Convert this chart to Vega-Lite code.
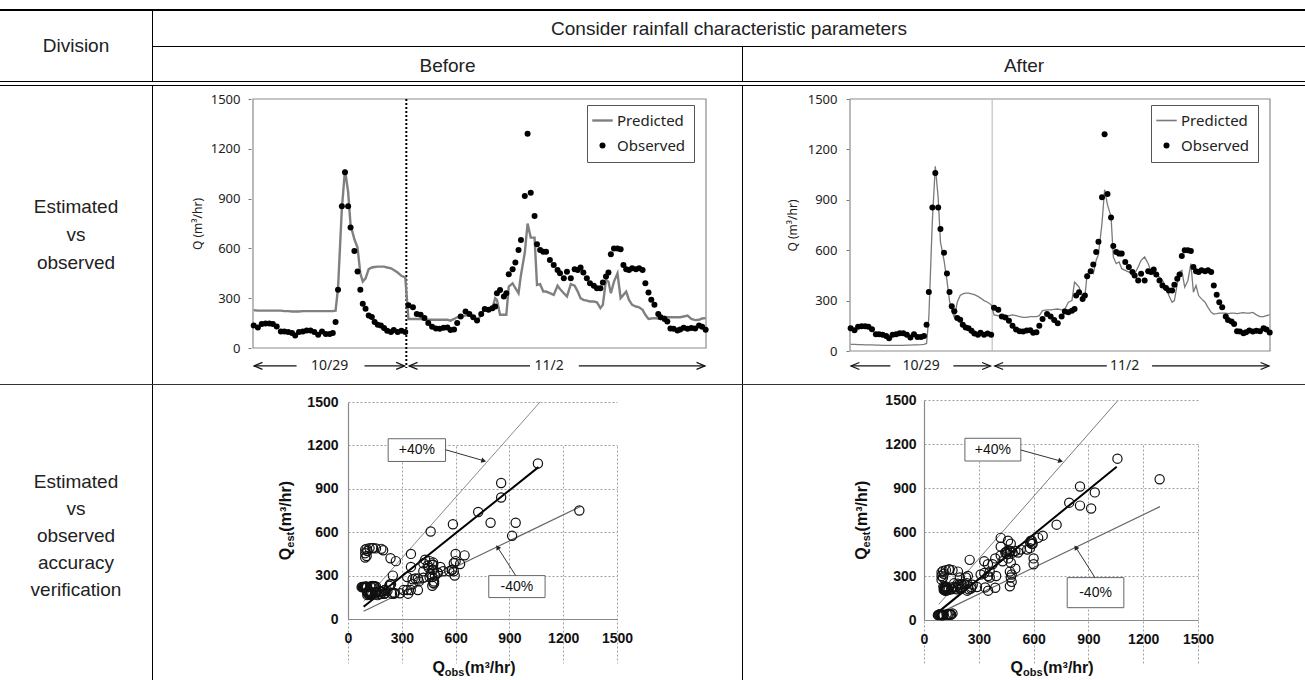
{
 "$schema": "https://vega.github.io/schema/vega-lite/v6.json",
 "padding": {"top": 9, "left": 0, "right": 0, "bottom": 0},
 "background": "white",
 "config": {"view": {"stroke": null}},
 "spacing": 0,
 "resolve": {"scale": {"color": "independent"}, "legend": {"color": "independent"}},
 "datasets": {
  "ts": [
   {"t":0.2,"obs":136,"pb":228,"pa":40},{"t":1.4,"obs":124,"pb":225,"pa":40},{"t":2.5,"obs":144,"pb":225,"pa":38},{"t":3.6,"obs":148,"pb":225,"pa":38},
   {"t":4.7,"obs":148,"pb":225,"pa":37},{"t":5.7,"obs":144,"pb":225,"pa":37},{"t":6.8,"obs":130,"pb":225,"pa":36},{"t":8.0,"obs":100,"pb":225,"pa":35},
   {"t":9.0,"obs":100,"pb":222,"pa":35},{"t":10.1,"obs":96,"pb":222,"pa":34},{"t":11.2,"obs":90,"pb":220,"pa":34},{"t":12.1,"obs":76,"pb":220,"pa":33},
   {"t":13.2,"obs":96,"pb":220,"pa":33},{"t":14.3,"obs":100,"pb":222,"pa":33},{"t":15.4,"obs":106,"pb":222,"pa":34},{"t":16.5,"obs":106,"pb":222,"pa":34},
   {"t":17.6,"obs":96,"pb":222,"pa":35},{"t":18.7,"obs":80,"pb":222,"pa":35},{"t":19.8,"obs":100,"pb":222,"pa":36},{"t":20.9,"obs":84,"pb":222,"pa":37},
   {"t":22.0,"obs":84,"pb":222,"pa":38},{"t":22.9,"obs":90,"pb":222,"pa":40},{"t":23.7,"obs":156,"pb":225,"pa":45},{"t":24.4,"obs":351,"pb":360,"pa":200},
   {"t":25.5,"obs":854,"pb":840,"pa":780},{"t":26.4,"obs":1059,"pb":1075,"pa":1100},{"t":27.3,"obs":854,"pb":940,"pa":910},{"t":28.0,"obs":726,"pb":740,"pa":650},
   {"t":29.1,"obs":585,"pb":655,"pa":540},{"t":30.0,"obs":461,"pb":605,"pa":420},{"t":30.8,"obs":351,"pb":450,"pa":300},{"t":31.5,"obs":267,"pb":400,"pa":240},
   {"t":32.3,"obs":237,"pb":420,"pa":200},{"t":33.2,"obs":196,"pb":475,"pa":290},{"t":34.1,"obs":186,"pb":485,"pa":330},{"t":34.9,"obs":156,"pb":488,"pa":340},
   {"t":35.8,"obs":140,"pb":490,"pa":345},{"t":36.7,"obs":136,"pb":490,"pa":345},{"t":37.6,"obs":120,"pb":490,"pa":340},{"t":38.5,"obs":104,"pb":485,"pa":335},
   {"t":39.6,"obs":96,"pb":480,"pa":325},{"t":40.4,"obs":108,"pb":470,"pa":315},{"t":41.5,"obs":96,"pb":455,"pa":300},{"t":42.6,"obs":104,"pb":435,"pa":290},
   {"t":43.7,"obs":96,"pb":425,"pa":275},
   {"t":44.6,"obs":257,"pb":175,"pa":215},{"t":45.9,"obs":245,"pb":175,"pa":210},{"t":47.0,"obs":205,"pb":175,"pa":215},{"t":48.1,"obs":200,"pb":175,"pa":212},
   {"t":49.2,"obs":180,"pb":172,"pa":210},{"t":50.3,"obs":150,"pb":170,"pa":215},{"t":51.4,"obs":128,"pb":170,"pa":210},{"t":52.5,"obs":118,"pb":170,"pa":205},
   {"t":53.6,"obs":116,"pb":170,"pa":200},{"t":54.7,"obs":122,"pb":170,"pa":200},{"t":55.8,"obs":124,"pb":170,"pa":205},{"t":56.7,"obs":108,"pb":165,"pa":205},
   {"t":57.7,"obs":112,"pb":175,"pa":205},{"t":58.6,"obs":150,"pb":185,"pa":210},{"t":59.6,"obs":190,"pb":190,"pa":240},{"t":61.0,"obs":220,"pb":195,"pa":245},
   {"t":62.1,"obs":205,"pb":200,"pa":245},{"t":63.2,"obs":185,"pb":190,"pa":248},{"t":64.3,"obs":165,"pb":165,"pa":250},{"t":65.5,"obs":205,"pb":200,"pa":245},
   {"t":66.5,"obs":235,"pb":240,"pa":250},{"t":67.6,"obs":230,"pb":230,"pa":290},{"t":68.7,"obs":240,"pb":240,"pa":300},{"t":69.5,"obs":250,"pb":300,"pa":410},
   {"t":70.0,"obs":330,"pb":290,"pa":400},{"t":70.9,"obs":350,"pb":200,"pa":380},{"t":72.0,"obs":310,"pb":200,"pa":310},{"t":72.7,"obs":330,"pb":200,"pa":320},
   {"t":73.4,"obs":445,"pb":370,"pa":460},{"t":74.5,"obs":475,"pb":390,"pa":470},{"t":75.3,"obs":515,"pb":360,"pa":460},{"t":76.2,"obs":590,"pb":330,"pa":540},
   {"t":76.9,"obs":650,"pb":440,"pa":575},{"t":78.0,"obs":915,"pb":575,"pa":760},{"t":78.8,"obs":1290,"pb":750,"pa":960},{"t":79.7,"obs":935,"pb":665,"pa":870},
   {"t":80.8,"obs":795,"pb":665,"pa":800},{"t":81.5,"obs":625,"pb":380,"pa":560},{"t":82.4,"obs":590,"pb":385,"pa":520},{"t":83.3,"obs":580,"pb":340,"pa":530},
   {"t":84.1,"obs":580,"pb":340,"pa":490},{"t":85.2,"obs":530,"pb":330,"pa":480},{"t":86.3,"obs":500,"pb":320,"pa":470},{"t":87.4,"obs":470,"pb":375,"pa":470},
   {"t":88.1,"obs":450,"pb":355,"pa":460},{"t":89.2,"obs":420,"pb":330,"pa":500},{"t":90.1,"obs":460,"pb":310,"pa":540},{"t":91.2,"obs":420,"pb":385,"pa":560},
   {"t":92.3,"obs":475,"pb":375,"pa":520},{"t":93.2,"obs":470,"pb":340,"pa":470},{"t":94.0,"obs":485,"pb":300,"pa":460},{"t":94.8,"obs":455,"pb":290,"pa":450},
   {"t":95.8,"obs":420,"pb":285,"pa":440},{"t":96.7,"obs":390,"pb":280,"pa":420},{"t":97.8,"obs":375,"pb":280,"pa":380},{"t":98.7,"obs":360,"pb":275,"pa":330},
   {"t":99.7,"obs":360,"pb":240,"pa":290},{"t":100.4,"obs":395,"pb":260,"pa":300},{"t":101.3,"obs":430,"pb":410,"pa":400},{"t":102.0,"obs":455,"pb":400,"pa":470},
   {"t":102.7,"obs":565,"pb":330,"pa":480},{"t":103.6,"obs":600,"pb":400,"pa":380},{"t":104.6,"obs":600,"pb":450,"pa":420},{"t":105.5,"obs":595,"pb":300,"pa":520},
   {"t":106.3,"obs":500,"pb":320,"pa":350},{"t":107.1,"obs":475,"pb":340,"pa":390},{"t":107.9,"obs":470,"pb":290,"pa":330},{"t":108.8,"obs":480,"pb":260,"pa":310},
   {"t":109.9,"obs":475,"pb":250,"pa":290},{"t":110.8,"obs":480,"pb":245,"pa":260},{"t":111.8,"obs":470,"pb":230,"pa":230},{"t":112.6,"obs":390,"pb":200,"pa":220},
   {"t":113.5,"obs":335,"pb":175,"pa":222},{"t":114.3,"obs":290,"pb":178,"pa":225},{"t":115.2,"obs":260,"pb":180,"pa":225},{"t":116.3,"obs":205,"pb":178,"pa":225},
   {"t":117.0,"obs":185,"pb":175,"pa":222},{"t":118.1,"obs":175,"pb":190,"pa":225},{"t":118.9,"obs":160,"pb":185,"pa":225},{"t":119.8,"obs":118,"pb":185,"pa":222},
   {"t":120.7,"obs":116,"pb":185,"pa":225},{"t":121.8,"obs":106,"pb":185,"pa":228},{"t":122.6,"obs":112,"pb":185,"pa":225},{"t":123.6,"obs":122,"pb":190,"pa":225},
   {"t":124.7,"obs":116,"pb":195,"pa":230},{"t":125.8,"obs":120,"pb":175,"pa":215},{"t":126.9,"obs":118,"pb":168,"pa":205},{"t":128.0,"obs":135,"pb":170,"pa":205},
   {"t":128.9,"obs":128,"pb":178,"pa":210},{"t":129.9,"obs":110,"pb":180,"pa":215}
  ],
  "arrows": [
   {"lab":"10/29","a":0.3,"b":12.5,"c":32,"d":43.5,"m":22},
   {"lab":"11/2","a":44.8,"b":79.5,"c":93.5,"d":129.7,"m":85}
  ],
  "linesB": [
   {"k":"p40","x0":87,"y0":122,"x1":1071,"y1":1500},
   {"k":"one","x0":87,"y0":85,"x1":1062,"y1":1050},
   {"k":"m40","x0":87,"y0":53,"x1":1297,"y1":778}
  ],
  "linesA": [
   {"k":"p40","x0":81,"y0":107,"x1":1059,"y1":1493},
   {"k":"one","x0":81,"y0":57,"x1":1055,"y1":1045},
   {"k":"m40","x0":81,"y0":45,"x1":1292,"y1":773}
  ],
  "annB": [
   {"lab":"+40%","bx0":224,"bx1":544,"by0":1089,"by1":1246,"tx":384,"ty":1167,"ax0":544,"ay0":1170,"ax1":757,"ay1":1094},
   {"lab":"-40%","bx0":785,"bx1":1099,"by0":148,"by1":300,"tx":942,"ty":224,"ax0":935,"ay0":300,"ax1":834,"ay1":496}
  ],
  "annA": [
   {"lab":"+40%","bx0":224,"bx1":530,"by0":1084,"by1":1239,"tx":377,"ty":1161,"ax0":530,"ay0":1159,"ax1":748,"ay1":1084},
   {"lab":"-40%","bx0":784,"bx1":1094,"by0":84,"by1":289,"tx":939,"ty":186,"ax0":936,"ay0":289,"ax1":831,"ay1":495}
  ]
 },
 "vconcat": [
  {"width":1305,"height":2,"data":{"values":[]},"mark":"point","encoding":{},"view":{"fill":"#000","stroke":null}},
  {"spacing":0,"hconcat":[
    {"width":152,"height":70,"data":{"values":[{"t":"Division"}]},"mark":{"type":"text","font":"Liberation Sans","fontSize":19,"color":"#222"},"encoding":{"text":{"field":"t","type":"nominal"}}},
    {"width":1,"height":70,"data":{"values":[]},"mark":"point","encoding":{},"view":{"fill":"#000","stroke":null}},
    {"spacing":0,"vconcat":[
      {"width":1152,"height":35,"data":{"values":[{"t":"Consider rainfall characteristic parameters"}]},"mark":{"type":"text","font":"Liberation Sans","fontSize":19,"color":"#222"},"encoding":{"text":{"field":"t","type":"nominal"}}},
      {"width":1152,"height":1,"data":{"values":[]},"mark":"point","encoding":{},"view":{"fill":"#000","stroke":null}},
      {"spacing":0,"hconcat":[
        {"width":589,"height":34,"data":{"values":[{"t":"Before"}]},"mark":{"type":"text","font":"Liberation Sans","fontSize":19,"color":"#222","dy":2},"encoding":{"text":{"field":"t","type":"nominal"}}},
        {"width":1,"height":34,"data":{"values":[]},"mark":"point","encoding":{},"view":{"fill":"#000","stroke":null}},
        {"width":562,"height":34,"data":{"values":[{"t":"After"}]},"mark":{"type":"text","font":"Liberation Sans","fontSize":19,"color":"#222","dy":2},"encoding":{"text":{"field":"t","type":"nominal"}}}
      ]}
    ]}
  ]},
  {"width":1305,"height":1,"data":{"values":[]},"mark":"point","encoding":{},"view":{"fill":"#000","stroke":null}},
  {"width":1305,"height":3,"data":{"values":[]},"mark":"point","encoding":{},"view":{"fill":"#fff","stroke":null}},
  {"width":1305,"height":1,"data":{"values":[]},"mark":"point","encoding":{},"view":{"fill":"#000","stroke":null}},
  {"spacing":0,"resolve":{"scale":{"color":"independent"},"legend":{"color":"independent"}},"hconcat":[
    {"width":152,"height":298,"data":{"values":[{"t":"Estimated\nvs\nobserved"}]},"mark":{"type":"text","font":"Liberation Sans","fontSize":19,"color":"#222","lineBreak":"\n","lineHeight":28,"dy":-28},"encoding":{"text":{"field":"t","type":"nominal"}}},
    {"width":1,"height":298,"data":{"values":[]},"mark":"point","encoding":{},"view":{"fill":"#000","stroke":null}},
    {"width":589,"height":298,"layer":[
      {"data":{"values":[{}]},"mark":{"type":"rect","filled":false,"color":"#8c8c8c","strokeWidth":1.2},
       "encoding":{"x":{"datum":0,"type":"quantitative","scale":{"domain":[0,130],"range":[100,553],"nice":false,"zero":false},"axis":null},"x2":{"datum":130},
                   "y":{"datum":0,"type":"quantitative","scale":{"domain":[0,1500],"range":[262,13],"nice":false,"zero":false},"axis":{"values":[0,300,600,900,1200,1500],"format":"d","offset":-98,"domain":false,"grid":false,"ticks":true,"tickSize":3,"tickColor":"#777","labelPadding":8,"labelFont":"Noto Sans","labelFontSize":13,"labelColor":"#222","labelFlush":false,"title":"Q (m³/hr)","titleFont":"Noto Sans","titleFontSize":12,"titleFontWeight":"normal","titleColor":"#222","titlePadding":6}},"y2":{"datum":1500}}},
      {"data":{"values":[{}]},"mark":{"type":"rule","color":"#000","strokeWidth":2,"strokeDash":[2,2]},
       "encoding":{"x":{"datum":44,"type":"quantitative","scale":{"domain":[0,130],"range":[100,553],"nice":false,"zero":false},"axis":null},
                   "y":{"datum":1500,"type":"quantitative","scale":{"domain":[0,1500],"range":[262,13],"nice":false,"zero":false},"axis":{"values":[0,300,600,900,1200,1500],"format":"d","offset":-98,"domain":false,"grid":false,"ticks":true,"tickSize":3,"tickColor":"#777","labelPadding":8,"labelFont":"Noto Sans","labelFontSize":13,"labelColor":"#222","labelFlush":false,"title":"Q (m³/hr)","titleFont":"Noto Sans","titleFontSize":12,"titleFontWeight":"normal","titleColor":"#222","titlePadding":6}},"y2":{"datum":-120}}},
      {"data":{"name":"ts"},"mark":{"type":"line","strokeWidth":2.4},
       "encoding":{"x":{"field":"t","type":"quantitative","scale":{"domain":[0,130],"range":[100,553],"nice":false,"zero":false},"axis":null},
                   "y":{"field":"pb","type":"quantitative","scale":{"domain":[0,1500],"range":[262,13],"nice":false,"zero":false},"axis":{"values":[0,300,600,900,1200,1500],"format":"d","offset":-98,"domain":false,"grid":false,"ticks":true,"tickSize":3,"tickColor":"#777","labelPadding":8,"labelFont":"Noto Sans","labelFontSize":13,"labelColor":"#222","labelFlush":false,"title":"Q (m³/hr)","titleFont":"Noto Sans","titleFontSize":12,"titleFontWeight":"normal","titleColor":"#222","titlePadding":6}},
                   "color":{"datum":"Predicted","type":"nominal","scale":{"domain":["Predicted","Observed"],"range":["#808080","#000000"]},
                     "legend":{"orient":"none","legendX":434,"legendY":19,"title":null,"strokeColor":"#555","fillColor":"#fff","padding":8,"labelFont":"Noto Sans","labelFontSize":15,"labelColor":"#222","symbolSize":420,"rowPadding":9,"labelOffset":7,
                       "encode":{"symbols":{"update":{"shape":{"signal":"datum.value === 'Predicted' ? 'stroke' : 'circle'"},"size":{"signal":"datum.value === 'Predicted' ? 420 : 36"},"stroke":{"signal":"datum.value === 'Predicted' ? '#808080' : 'transparent'"},"strokeWidth":{"signal":"datum.value === 'Predicted' ? 2.4 : 0"},"fill":{"signal":"datum.value === 'Predicted' ? 'transparent' : '#000'"},"opacity":{"value":1}}}}}}}},
      {"data":{"name":"ts"},"mark":{"type":"point","filled":true,"size":36,"opacity":1},
       "encoding":{"x":{"field":"t","type":"quantitative","scale":{"domain":[0,130],"range":[100,553],"nice":false,"zero":false},"axis":null},
                   "y":{"field":"obs","type":"quantitative","scale":{"domain":[0,1500],"range":[262,13],"nice":false,"zero":false},"axis":{"values":[0,300,600,900,1200,1500],"format":"d","offset":-98,"domain":false,"grid":false,"ticks":true,"tickSize":3,"tickColor":"#777","labelPadding":8,"labelFont":"Noto Sans","labelFontSize":13,"labelColor":"#222","labelFlush":false,"title":"Q (m³/hr)","titleFont":"Noto Sans","titleFontSize":12,"titleFontWeight":"normal","titleColor":"#222","titlePadding":6}},
                   "color":{"datum":"Observed","type":"nominal","scale":{"domain":["Predicted","Observed"],"range":["#808080","#000000"]}}}},
      {"data":{"name":"arrows"},"mark":{"type":"rule","color":"#111","strokeWidth":1.2},
       "encoding":{"x":{"field":"a","type":"quantitative","scale":{"domain":[0,130],"range":[100,553],"nice":false,"zero":false},"axis":null},"x2":{"field":"b"},
                   "y":{"datum":-108,"type":"quantitative","scale":{"domain":[0,1500],"range":[262,13],"nice":false,"zero":false},"axis":{"values":[0,300,600,900,1200,1500],"format":"d","offset":-98,"domain":false,"grid":false,"ticks":true,"tickSize":3,"tickColor":"#777","labelPadding":8,"labelFont":"Noto Sans","labelFontSize":13,"labelColor":"#222","labelFlush":false,"title":"Q (m³/hr)","titleFont":"Noto Sans","titleFontSize":12,"titleFontWeight":"normal","titleColor":"#222","titlePadding":6}}}},
      {"data":{"name":"arrows"},"mark":{"type":"rule","color":"#111","strokeWidth":1.2},
       "encoding":{"x":{"field":"c","type":"quantitative","scale":{"domain":[0,130],"range":[100,553],"nice":false,"zero":false},"axis":null},"x2":{"field":"d"},
                   "y":{"datum":-108,"type":"quantitative","scale":{"domain":[0,1500],"range":[262,13],"nice":false,"zero":false},"axis":{"values":[0,300,600,900,1200,1500],"format":"d","offset":-98,"domain":false,"grid":false,"ticks":true,"tickSize":3,"tickColor":"#777","labelPadding":8,"labelFont":"Noto Sans","labelFontSize":13,"labelColor":"#222","labelFlush":false,"title":"Q (m³/hr)","titleFont":"Noto Sans","titleFontSize":12,"titleFontWeight":"normal","titleColor":"#222","titlePadding":6}}}},
      {"data":{"name":"arrows"},"mark":{"type":"point","shape":"M2.4,-1L0,0L2.4,1","filled":false,"size":49,"color":"#111","strokeWidth":1.2,"opacity":1},
       "encoding":{"x":{"field":"a","type":"quantitative","scale":{"domain":[0,130],"range":[100,553],"nice":false,"zero":false},"axis":null},
                   "y":{"datum":-108,"type":"quantitative","scale":{"domain":[0,1500],"range":[262,13],"nice":false,"zero":false},"axis":{"values":[0,300,600,900,1200,1500],"format":"d","offset":-98,"domain":false,"grid":false,"ticks":true,"tickSize":3,"tickColor":"#777","labelPadding":8,"labelFont":"Noto Sans","labelFontSize":13,"labelColor":"#222","labelFlush":false,"title":"Q (m³/hr)","titleFont":"Noto Sans","titleFontSize":12,"titleFontWeight":"normal","titleColor":"#222","titlePadding":6}}}},
      {"data":{"name":"arrows"},"mark":{"type":"point","shape":"M-2.4,-1L0,0L-2.4,1","filled":false,"size":49,"color":"#111","strokeWidth":1.2,"opacity":1},
       "encoding":{"x":{"field":"d","type":"quantitative","scale":{"domain":[0,130],"range":[100,553],"nice":false,"zero":false},"axis":null},
                   "y":{"datum":-108,"type":"quantitative","scale":{"domain":[0,1500],"range":[262,13],"nice":false,"zero":false},"axis":{"values":[0,300,600,900,1200,1500],"format":"d","offset":-98,"domain":false,"grid":false,"ticks":true,"tickSize":3,"tickColor":"#777","labelPadding":8,"labelFont":"Noto Sans","labelFontSize":13,"labelColor":"#222","labelFlush":false,"title":"Q (m³/hr)","titleFont":"Noto Sans","titleFontSize":12,"titleFontWeight":"normal","titleColor":"#222","titlePadding":6}}}},
      {"data":{"name":"arrows"},"mark":{"type":"text","font":"Noto Sans","fontSize":14,"color":"#222"},
       "encoding":{"x":{"field":"m","type":"quantitative","scale":{"domain":[0,130],"range":[100,553],"nice":false,"zero":false},"axis":null},
                   "y":{"datum":-108,"type":"quantitative","scale":{"domain":[0,1500],"range":[262,13],"nice":false,"zero":false},"axis":{"values":[0,300,600,900,1200,1500],"format":"d","offset":-98,"domain":false,"grid":false,"ticks":true,"tickSize":3,"tickColor":"#777","labelPadding":8,"labelFont":"Noto Sans","labelFontSize":13,"labelColor":"#222","labelFlush":false,"title":"Q (m³/hr)","titleFont":"Noto Sans","titleFontSize":12,"titleFontWeight":"normal","titleColor":"#222","titlePadding":6}},
                   "text":{"field":"lab","type":"nominal"}}}
    ]},
    {"width":1,"height":298,"data":{"values":[]},"mark":"point","encoding":{},"view":{"fill":"#000","stroke":null}},
    {"width":562,"height":298,"layer":[
      {"data":{"values":[{}]},"mark":{"type":"rect","filled":false,"color":"#8c8c8c","strokeWidth":1.2},
       "encoding":{"x":{"datum":0,"type":"quantitative","scale":{"domain":[0,130],"range":[107,527],"nice":false,"zero":false},"axis":null},"x2":{"datum":130},
                   "y":{"datum":0,"type":"quantitative","scale":{"domain":[0,1500],"range":[265,13],"nice":false,"zero":false},"axis":{"values":[0,300,600,900,1200,1500],"format":"d","offset":-106,"domain":false,"grid":false,"ticks":true,"tickSize":3,"tickColor":"#777","labelPadding":9,"labelFont":"Noto Sans","labelFontSize":13,"labelColor":"#222","labelFlush":false,"title":"Q (m³/hr)","titleFont":"Noto Sans","titleFontSize":12,"titleFontWeight":"normal","titleColor":"#222","titlePadding":8}},"y2":{"datum":1500}}},
      {"data":{"values":[{}]},"mark":{"type":"rule","color":"#b5b5b5","strokeWidth":1},
       "encoding":{"x":{"datum":44,"type":"quantitative","scale":{"domain":[0,130],"range":[107,527],"nice":false,"zero":false},"axis":null},
                   "y":{"datum":1500,"type":"quantitative","scale":{"domain":[0,1500],"range":[265,13],"nice":false,"zero":false},"axis":{"values":[0,300,600,900,1200,1500],"format":"d","offset":-106,"domain":false,"grid":false,"ticks":true,"tickSize":3,"tickColor":"#777","labelPadding":9,"labelFont":"Noto Sans","labelFontSize":13,"labelColor":"#222","labelFlush":false,"title":"Q (m³/hr)","titleFont":"Noto Sans","titleFontSize":12,"titleFontWeight":"normal","titleColor":"#222","titlePadding":8}},"y2":{"datum":0}}},
      {"data":{"name":"ts"},"mark":{"type":"line","strokeWidth":1.3},
       "encoding":{"x":{"field":"t","type":"quantitative","scale":{"domain":[0,130],"range":[107,527],"nice":false,"zero":false},"axis":null},
                   "y":{"field":"pa","type":"quantitative","scale":{"domain":[0,1500],"range":[265,13],"nice":false,"zero":false},"axis":{"values":[0,300,600,900,1200,1500],"format":"d","offset":-106,"domain":false,"grid":false,"ticks":true,"tickSize":3,"tickColor":"#777","labelPadding":9,"labelFont":"Noto Sans","labelFontSize":13,"labelColor":"#222","labelFlush":false,"title":"Q (m³/hr)","titleFont":"Noto Sans","titleFontSize":12,"titleFontWeight":"normal","titleColor":"#222","titlePadding":8}},
                   "color":{"datum":"Predicted","type":"nominal","scale":{"domain":["Predicted","Observed"],"range":["#7a7a7a","#000000"]},
                     "legend":{"orient":"none","legendX":408,"legendY":19,"title":null,"strokeColor":"#555","fillColor":"#fff","padding":8,"labelFont":"Noto Sans","labelFontSize":15,"labelColor":"#222","symbolSize":420,"rowPadding":9,"labelOffset":7,
                       "encode":{"symbols":{"update":{"shape":{"signal":"datum.value === 'Predicted' ? 'stroke' : 'circle'"},"size":{"signal":"datum.value === 'Predicted' ? 420 : 36"},"stroke":{"signal":"datum.value === 'Predicted' ? '#7a7a7a' : 'transparent'"},"strokeWidth":{"signal":"datum.value === 'Predicted' ? 1.6 : 0"},"fill":{"signal":"datum.value === 'Predicted' ? 'transparent' : '#000'"},"opacity":{"value":1}}}}}}}},
      {"data":{"name":"ts"},"mark":{"type":"point","filled":true,"size":36,"opacity":1},
       "encoding":{"x":{"field":"t","type":"quantitative","scale":{"domain":[0,130],"range":[107,527],"nice":false,"zero":false},"axis":null},
                   "y":{"field":"obs","type":"quantitative","scale":{"domain":[0,1500],"range":[265,13],"nice":false,"zero":false},"axis":{"values":[0,300,600,900,1200,1500],"format":"d","offset":-106,"domain":false,"grid":false,"ticks":true,"tickSize":3,"tickColor":"#777","labelPadding":9,"labelFont":"Noto Sans","labelFontSize":13,"labelColor":"#222","labelFlush":false,"title":"Q (m³/hr)","titleFont":"Noto Sans","titleFontSize":12,"titleFontWeight":"normal","titleColor":"#222","titlePadding":8}},
                   "color":{"datum":"Observed","type":"nominal","scale":{"domain":["Predicted","Observed"],"range":["#7a7a7a","#000000"]}}}},
      {"data":{"name":"arrows"},"mark":{"type":"rule","color":"#111","strokeWidth":1.2},
       "encoding":{"x":{"field":"a","type":"quantitative","scale":{"domain":[0,130],"range":[107,527],"nice":false,"zero":false},"axis":null},"x2":{"field":"b"},
                   "y":{"datum":-89,"type":"quantitative","scale":{"domain":[0,1500],"range":[265,13],"nice":false,"zero":false},"axis":{"values":[0,300,600,900,1200,1500],"format":"d","offset":-106,"domain":false,"grid":false,"ticks":true,"tickSize":3,"tickColor":"#777","labelPadding":9,"labelFont":"Noto Sans","labelFontSize":13,"labelColor":"#222","labelFlush":false,"title":"Q (m³/hr)","titleFont":"Noto Sans","titleFontSize":12,"titleFontWeight":"normal","titleColor":"#222","titlePadding":8}}}},
      {"data":{"name":"arrows"},"mark":{"type":"rule","color":"#111","strokeWidth":1.2},
       "encoding":{"x":{"field":"c","type":"quantitative","scale":{"domain":[0,130],"range":[107,527],"nice":false,"zero":false},"axis":null},"x2":{"field":"d"},
                   "y":{"datum":-89,"type":"quantitative","scale":{"domain":[0,1500],"range":[265,13],"nice":false,"zero":false},"axis":{"values":[0,300,600,900,1200,1500],"format":"d","offset":-106,"domain":false,"grid":false,"ticks":true,"tickSize":3,"tickColor":"#777","labelPadding":9,"labelFont":"Noto Sans","labelFontSize":13,"labelColor":"#222","labelFlush":false,"title":"Q (m³/hr)","titleFont":"Noto Sans","titleFontSize":12,"titleFontWeight":"normal","titleColor":"#222","titlePadding":8}}}},
      {"data":{"name":"arrows"},"mark":{"type":"point","shape":"M2.4,-1L0,0L2.4,1","filled":false,"size":49,"color":"#111","strokeWidth":1.2,"opacity":1},
       "encoding":{"x":{"field":"a","type":"quantitative","scale":{"domain":[0,130],"range":[107,527],"nice":false,"zero":false},"axis":null},
                   "y":{"datum":-89,"type":"quantitative","scale":{"domain":[0,1500],"range":[265,13],"nice":false,"zero":false},"axis":{"values":[0,300,600,900,1200,1500],"format":"d","offset":-106,"domain":false,"grid":false,"ticks":true,"tickSize":3,"tickColor":"#777","labelPadding":9,"labelFont":"Noto Sans","labelFontSize":13,"labelColor":"#222","labelFlush":false,"title":"Q (m³/hr)","titleFont":"Noto Sans","titleFontSize":12,"titleFontWeight":"normal","titleColor":"#222","titlePadding":8}}}},
      {"data":{"name":"arrows"},"mark":{"type":"point","shape":"M-2.4,-1L0,0L-2.4,1","filled":false,"size":49,"color":"#111","strokeWidth":1.2,"opacity":1},
       "encoding":{"x":{"field":"d","type":"quantitative","scale":{"domain":[0,130],"range":[107,527],"nice":false,"zero":false},"axis":null},
                   "y":{"datum":-89,"type":"quantitative","scale":{"domain":[0,1500],"range":[265,13],"nice":false,"zero":false},"axis":{"values":[0,300,600,900,1200,1500],"format":"d","offset":-106,"domain":false,"grid":false,"ticks":true,"tickSize":3,"tickColor":"#777","labelPadding":9,"labelFont":"Noto Sans","labelFontSize":13,"labelColor":"#222","labelFlush":false,"title":"Q (m³/hr)","titleFont":"Noto Sans","titleFontSize":12,"titleFontWeight":"normal","titleColor":"#222","titlePadding":8}}}},
      {"data":{"name":"arrows"},"mark":{"type":"text","font":"Noto Sans","fontSize":14,"color":"#222"},
       "encoding":{"x":{"field":"m","type":"quantitative","scale":{"domain":[0,130],"range":[107,527],"nice":false,"zero":false},"axis":null},
                   "y":{"datum":-89,"type":"quantitative","scale":{"domain":[0,1500],"range":[265,13],"nice":false,"zero":false},"axis":{"values":[0,300,600,900,1200,1500],"format":"d","offset":-106,"domain":false,"grid":false,"ticks":true,"tickSize":3,"tickColor":"#777","labelPadding":9,"labelFont":"Noto Sans","labelFontSize":13,"labelColor":"#222","labelFlush":false,"title":"Q (m³/hr)","titleFont":"Noto Sans","titleFontSize":12,"titleFontWeight":"normal","titleColor":"#222","titlePadding":8}},
                   "text":{"field":"lab","type":"nominal"}}}
    ]}
  ]},
  {"width":1305,"height":1,"data":{"values":[]},"mark":"point","encoding":{},"view":{"fill":"#333","stroke":null}},
  {"spacing":0,"hconcat":[
    {"width":152,"height":295,"data":{"values":[{"t":"Estimated\nvs\nobserved\naccuracy\nverification"}]},"mark":{"type":"text","font":"Liberation Sans","fontSize":19,"color":"#222","lineBreak":"\n","lineHeight":27,"dy":-51},"encoding":{"text":{"field":"t","type":"nominal"}}},
    {"width":1,"height":295,"data":{"values":[]},"mark":"point","encoding":{},"view":{"fill":"#000","stroke":null}},
    {"width":589,"height":295,"layer":[
      {"data":{"name":"linesB"},"transform":[{"filter":"datum.k === 'p40'"}],"mark":{"type":"rule","color":"#8a8a8a","strokeWidth":1},
       "encoding":{"x":{"field":"x0","type":"quantitative","scale":{"domain":[0,1500],"range":[195,464],"nice":false,"zero":false},"axis":{"values":[0,300,600,900,1200,1500],"format":"d","offset":-61,"domain":true,"domainColor":"#8a8a8a","domainWidth":1.2,"ticks":false,"tickSize":0,"grid":true,"gridColor":"#a0a0a0","gridDash":[2,2],"labelFont":"Liberation Sans","labelFontWeight":"bold","labelFontSize":14,"labelColor":"#111","labelPadding":12,"labelFlush":false,"title":null}},"x2":{"field":"x1"},
                   "y":{"field":"y0","type":"quantitative","scale":{"domain":[0,1500],"range":[234,17],"nice":false,"zero":false},"axis":{"values":[0,300,600,900,1200,1500],"format":"d","offset":-195,"domain":true,"domainColor":"#8a8a8a","domainWidth":1.2,"ticks":false,"tickSize":0,"grid":true,"gridColor":"#a0a0a0","gridDash":[2,2],"labelFont":"Liberation Sans","labelFontWeight":"bold","labelFontSize":14,"labelColor":"#111","labelPadding":10,"labelFlush":false,"title":null}},"y2":{"field":"y1"}}},
      {"data":{"name":"linesB"},"transform":[{"filter":"datum.k === 'm40'"}],"mark":{"type":"rule","color":"#666","strokeWidth":1.2},
       "encoding":{"x":{"field":"x0","type":"quantitative","scale":{"domain":[0,1500],"range":[195,464],"nice":false,"zero":false},"axis":{"values":[0,300,600,900,1200,1500],"format":"d","offset":-61,"domain":true,"domainColor":"#8a8a8a","domainWidth":1.2,"ticks":false,"tickSize":0,"grid":true,"gridColor":"#a0a0a0","gridDash":[2,2],"labelFont":"Liberation Sans","labelFontWeight":"bold","labelFontSize":14,"labelColor":"#111","labelPadding":12,"labelFlush":false,"title":null}},"x2":{"field":"x1"},
                   "y":{"field":"y0","type":"quantitative","scale":{"domain":[0,1500],"range":[234,17],"nice":false,"zero":false},"axis":{"values":[0,300,600,900,1200,1500],"format":"d","offset":-195,"domain":true,"domainColor":"#8a8a8a","domainWidth":1.2,"ticks":false,"tickSize":0,"grid":true,"gridColor":"#a0a0a0","gridDash":[2,2],"labelFont":"Liberation Sans","labelFontWeight":"bold","labelFontSize":14,"labelColor":"#111","labelPadding":10,"labelFlush":false,"title":null}},"y2":{"field":"y1"}}},
      {"data":{"name":"linesB"},"transform":[{"filter":"datum.k === 'one'"}],"mark":{"type":"rule","color":"#000","strokeWidth":2},
       "encoding":{"x":{"field":"x0","type":"quantitative","scale":{"domain":[0,1500],"range":[195,464],"nice":false,"zero":false},"axis":{"values":[0,300,600,900,1200,1500],"format":"d","offset":-61,"domain":true,"domainColor":"#8a8a8a","domainWidth":1.2,"ticks":false,"tickSize":0,"grid":true,"gridColor":"#a0a0a0","gridDash":[2,2],"labelFont":"Liberation Sans","labelFontWeight":"bold","labelFontSize":14,"labelColor":"#111","labelPadding":12,"labelFlush":false,"title":null}},"x2":{"field":"x1"},
                   "y":{"field":"y0","type":"quantitative","scale":{"domain":[0,1500],"range":[234,17],"nice":false,"zero":false},"axis":{"values":[0,300,600,900,1200,1500],"format":"d","offset":-195,"domain":true,"domainColor":"#8a8a8a","domainWidth":1.2,"ticks":false,"tickSize":0,"grid":true,"gridColor":"#a0a0a0","gridDash":[2,2],"labelFont":"Liberation Sans","labelFontWeight":"bold","labelFontSize":14,"labelColor":"#111","labelPadding":10,"labelFlush":false,"title":null}},"y2":{"field":"y1"}}},
      {"data":{"name":"ts"},"mark":{"type":"point","filled":false,"size":85,"color":"#111","strokeWidth":1.2,"opacity":1},
       "encoding":{"x":{"field":"obs","type":"quantitative","scale":{"domain":[0,1500],"range":[195,464],"nice":false,"zero":false},"axis":{"values":[0,300,600,900,1200,1500],"format":"d","offset":-61,"domain":true,"domainColor":"#8a8a8a","domainWidth":1.2,"ticks":false,"tickSize":0,"grid":true,"gridColor":"#a0a0a0","gridDash":[2,2],"labelFont":"Liberation Sans","labelFontWeight":"bold","labelFontSize":14,"labelColor":"#111","labelPadding":12,"labelFlush":false,"title":null}},
                   "y":{"field":"pb","type":"quantitative","scale":{"domain":[0,1500],"range":[234,17],"nice":false,"zero":false},"axis":{"values":[0,300,600,900,1200,1500],"format":"d","offset":-195,"domain":true,"domainColor":"#8a8a8a","domainWidth":1.2,"ticks":false,"tickSize":0,"grid":true,"gridColor":"#a0a0a0","gridDash":[2,2],"labelFont":"Liberation Sans","labelFontWeight":"bold","labelFontSize":14,"labelColor":"#111","labelPadding":10,"labelFlush":false,"title":null}}}},
      {"data":{"name":"annB"},"mark":{"type":"rect","fill":"#fff","stroke":"#666","strokeWidth":1},
       "encoding":{"x":{"field":"bx0","type":"quantitative","scale":{"domain":[0,1500],"range":[195,464],"nice":false,"zero":false},"axis":{"values":[0,300,600,900,1200,1500],"format":"d","offset":-61,"domain":true,"domainColor":"#8a8a8a","domainWidth":1.2,"ticks":false,"tickSize":0,"grid":true,"gridColor":"#a0a0a0","gridDash":[2,2],"labelFont":"Liberation Sans","labelFontWeight":"bold","labelFontSize":14,"labelColor":"#111","labelPadding":12,"labelFlush":false,"title":null}},"x2":{"field":"bx1"},
                   "y":{"field":"by0","type":"quantitative","scale":{"domain":[0,1500],"range":[234,17],"nice":false,"zero":false},"axis":{"values":[0,300,600,900,1200,1500],"format":"d","offset":-195,"domain":true,"domainColor":"#8a8a8a","domainWidth":1.2,"ticks":false,"tickSize":0,"grid":true,"gridColor":"#a0a0a0","gridDash":[2,2],"labelFont":"Liberation Sans","labelFontWeight":"bold","labelFontSize":14,"labelColor":"#111","labelPadding":10,"labelFlush":false,"title":null}},"y2":{"field":"by1"}}},
      {"data":{"name":"annB"},"mark":{"type":"text","font":"Liberation Sans","fontSize":14,"color":"#111"},
       "encoding":{"x":{"field":"tx","type":"quantitative","scale":{"domain":[0,1500],"range":[195,464],"nice":false,"zero":false},"axis":{"values":[0,300,600,900,1200,1500],"format":"d","offset":-61,"domain":true,"domainColor":"#8a8a8a","domainWidth":1.2,"ticks":false,"tickSize":0,"grid":true,"gridColor":"#a0a0a0","gridDash":[2,2],"labelFont":"Liberation Sans","labelFontWeight":"bold","labelFontSize":14,"labelColor":"#111","labelPadding":12,"labelFlush":false,"title":null}},
                   "y":{"field":"ty","type":"quantitative","scale":{"domain":[0,1500],"range":[234,17],"nice":false,"zero":false},"axis":{"values":[0,300,600,900,1200,1500],"format":"d","offset":-195,"domain":true,"domainColor":"#8a8a8a","domainWidth":1.2,"ticks":false,"tickSize":0,"grid":true,"gridColor":"#a0a0a0","gridDash":[2,2],"labelFont":"Liberation Sans","labelFontWeight":"bold","labelFontSize":14,"labelColor":"#111","labelPadding":10,"labelFlush":false,"title":null}},
                   "text":{"field":"lab","type":"nominal"}}},
      {"data":{"name":"annB"},"mark":{"type":"rule","color":"#333","strokeWidth":1},
       "encoding":{"x":{"field":"ax0","type":"quantitative","scale":{"domain":[0,1500],"range":[195,464],"nice":false,"zero":false},"axis":{"values":[0,300,600,900,1200,1500],"format":"d","offset":-61,"domain":true,"domainColor":"#8a8a8a","domainWidth":1.2,"ticks":false,"tickSize":0,"grid":true,"gridColor":"#a0a0a0","gridDash":[2,2],"labelFont":"Liberation Sans","labelFontWeight":"bold","labelFontSize":14,"labelColor":"#111","labelPadding":12,"labelFlush":false,"title":null}},"x2":{"field":"ax1"},
                   "y":{"field":"ay0","type":"quantitative","scale":{"domain":[0,1500],"range":[234,17],"nice":false,"zero":false},"axis":{"values":[0,300,600,900,1200,1500],"format":"d","offset":-195,"domain":true,"domainColor":"#8a8a8a","domainWidth":1.2,"ticks":false,"tickSize":0,"grid":true,"gridColor":"#a0a0a0","gridDash":[2,2],"labelFont":"Liberation Sans","labelFontWeight":"bold","labelFontSize":14,"labelColor":"#111","labelPadding":10,"labelFlush":false,"title":null}},"y2":{"field":"ay1"}}},
      {"data":{"name":"annB"},"transform":[{"filter":"datum.lab === '+40%'"}],"mark":{"type":"point","shape":"triangle-right","angle":16,"size":30,"filled":true,"color":"#222","opacity":1},
       "encoding":{"x":{"field":"ax1","type":"quantitative","scale":{"domain":[0,1500],"range":[195,464],"nice":false,"zero":false},"axis":{"values":[0,300,600,900,1200,1500],"format":"d","offset":-61,"domain":true,"domainColor":"#8a8a8a","domainWidth":1.2,"ticks":false,"tickSize":0,"grid":true,"gridColor":"#a0a0a0","gridDash":[2,2],"labelFont":"Liberation Sans","labelFontWeight":"bold","labelFontSize":14,"labelColor":"#111","labelPadding":12,"labelFlush":false,"title":null}},
                   "y":{"field":"ay1","type":"quantitative","scale":{"domain":[0,1500],"range":[234,17],"nice":false,"zero":false},"axis":{"values":[0,300,600,900,1200,1500],"format":"d","offset":-195,"domain":true,"domainColor":"#8a8a8a","domainWidth":1.2,"ticks":false,"tickSize":0,"grid":true,"gridColor":"#a0a0a0","gridDash":[2,2],"labelFont":"Liberation Sans","labelFontWeight":"bold","labelFontSize":14,"labelColor":"#111","labelPadding":10,"labelFlush":false,"title":null}}}},
      {"data":{"name":"annB"},"transform":[{"filter":"datum.lab === '-40%'"}],"mark":{"type":"point","shape":"triangle-right","angle":238,"size":30,"filled":true,"color":"#222","opacity":1},
       "encoding":{"x":{"field":"ax1","type":"quantitative","scale":{"domain":[0,1500],"range":[195,464],"nice":false,"zero":false},"axis":{"values":[0,300,600,900,1200,1500],"format":"d","offset":-61,"domain":true,"domainColor":"#8a8a8a","domainWidth":1.2,"ticks":false,"tickSize":0,"grid":true,"gridColor":"#a0a0a0","gridDash":[2,2],"labelFont":"Liberation Sans","labelFontWeight":"bold","labelFontSize":14,"labelColor":"#111","labelPadding":12,"labelFlush":false,"title":null}},
                   "y":{"field":"ay1","type":"quantitative","scale":{"domain":[0,1500],"range":[234,17],"nice":false,"zero":false},"axis":{"values":[0,300,600,900,1200,1500],"format":"d","offset":-195,"domain":true,"domainColor":"#8a8a8a","domainWidth":1.2,"ticks":false,"tickSize":0,"grid":true,"gridColor":"#a0a0a0","gridDash":[2,2],"labelFont":"Liberation Sans","labelFontWeight":"bold","labelFontSize":14,"labelColor":"#111","labelPadding":10,"labelFlush":false,"title":null}}}},
      {"data":{"values":[{}]},"mark":{"type":"text","text":"Q","font":"Liberation Sans","fontWeight":"bold","fontSize":16,"align":"right","baseline":"middle","color":"#111"},
       "encoding":{"x":{"datum":540,"type":"quantitative","scale":{"domain":[0,1500],"range":[195,464],"nice":false,"zero":false},"axis":{"values":[0,300,600,900,1200,1500],"format":"d","offset":-61,"domain":true,"domainColor":"#8a8a8a","domainWidth":1.2,"ticks":false,"tickSize":0,"grid":true,"gridColor":"#a0a0a0","gridDash":[2,2],"labelFont":"Liberation Sans","labelFontWeight":"bold","labelFontSize":14,"labelColor":"#111","labelPadding":12,"labelFlush":false,"title":null}},
                   "y":{"datum":-339,"type":"quantitative","scale":{"domain":[0,1500],"range":[234,17],"nice":false,"zero":false},"axis":{"values":[0,300,600,900,1200,1500],"format":"d","offset":-195,"domain":true,"domainColor":"#8a8a8a","domainWidth":1.2,"ticks":false,"tickSize":0,"grid":true,"gridColor":"#a0a0a0","gridDash":[2,2],"labelFont":"Liberation Sans","labelFontWeight":"bold","labelFontSize":14,"labelColor":"#111","labelPadding":10,"labelFlush":false,"title":null}}}},
      {"data":{"values":[{}]},"mark":{"type":"text","text":"obs","font":"Liberation Sans","fontWeight":"bold","fontSize":11,"align":"left","baseline":"middle","dy":5,"color":"#111"},
       "encoding":{"x":{"datum":540,"type":"quantitative","scale":{"domain":[0,1500],"range":[195,464],"nice":false,"zero":false},"axis":{"values":[0,300,600,900,1200,1500],"format":"d","offset":-61,"domain":true,"domainColor":"#8a8a8a","domainWidth":1.2,"ticks":false,"tickSize":0,"grid":true,"gridColor":"#a0a0a0","gridDash":[2,2],"labelFont":"Liberation Sans","labelFontWeight":"bold","labelFontSize":14,"labelColor":"#111","labelPadding":12,"labelFlush":false,"title":null}},
                   "y":{"datum":-339,"type":"quantitative","scale":{"domain":[0,1500],"range":[234,17],"nice":false,"zero":false},"axis":{"values":[0,300,600,900,1200,1500],"format":"d","offset":-195,"domain":true,"domainColor":"#8a8a8a","domainWidth":1.2,"ticks":false,"tickSize":0,"grid":true,"gridColor":"#a0a0a0","gridDash":[2,2],"labelFont":"Liberation Sans","labelFontWeight":"bold","labelFontSize":14,"labelColor":"#111","labelPadding":10,"labelFlush":false,"title":null}}}},
      {"data":{"values":[{}]},"mark":{"type":"text","text":"(m³/hr)","font":"Liberation Sans","fontWeight":"bold","fontSize":16,"align":"left","baseline":"middle","dx":20,"color":"#111"},
       "encoding":{"x":{"datum":540,"type":"quantitative","scale":{"domain":[0,1500],"range":[195,464],"nice":false,"zero":false},"axis":{"values":[0,300,600,900,1200,1500],"format":"d","offset":-61,"domain":true,"domainColor":"#8a8a8a","domainWidth":1.2,"ticks":false,"tickSize":0,"grid":true,"gridColor":"#a0a0a0","gridDash":[2,2],"labelFont":"Liberation Sans","labelFontWeight":"bold","labelFontSize":14,"labelColor":"#111","labelPadding":12,"labelFlush":false,"title":null}},
                   "y":{"datum":-339,"type":"quantitative","scale":{"domain":[0,1500],"range":[234,17],"nice":false,"zero":false},"axis":{"values":[0,300,600,900,1200,1500],"format":"d","offset":-195,"domain":true,"domainColor":"#8a8a8a","domainWidth":1.2,"ticks":false,"tickSize":0,"grid":true,"gridColor":"#a0a0a0","gridDash":[2,2],"labelFont":"Liberation Sans","labelFontWeight":"bold","labelFontSize":14,"labelColor":"#111","labelPadding":10,"labelFlush":false,"title":null}}}},
      {"data":{"values":[{}]},"mark":{"type":"text","text":"Q","font":"Liberation Sans","fontWeight":"bold","fontSize":16,"align":"right","baseline":"middle","angle":270,"color":"#111"},
       "encoding":{"x":{"datum":-346,"type":"quantitative","scale":{"domain":[0,1500],"range":[195,464],"nice":false,"zero":false},"axis":{"values":[0,300,600,900,1200,1500],"format":"d","offset":-61,"domain":true,"domainColor":"#8a8a8a","domainWidth":1.2,"ticks":false,"tickSize":0,"grid":true,"gridColor":"#a0a0a0","gridDash":[2,2],"labelFont":"Liberation Sans","labelFontWeight":"bold","labelFontSize":14,"labelColor":"#111","labelPadding":12,"labelFlush":false,"title":null}},
                   "y":{"datum":493,"type":"quantitative","scale":{"domain":[0,1500],"range":[234,17],"nice":false,"zero":false},"axis":{"values":[0,300,600,900,1200,1500],"format":"d","offset":-195,"domain":true,"domainColor":"#8a8a8a","domainWidth":1.2,"ticks":false,"tickSize":0,"grid":true,"gridColor":"#a0a0a0","gridDash":[2,2],"labelFont":"Liberation Sans","labelFontWeight":"bold","labelFontSize":14,"labelColor":"#111","labelPadding":10,"labelFlush":false,"title":null}}}},
      {"data":{"values":[{}]},"mark":{"type":"text","text":"est","font":"Liberation Sans","fontWeight":"bold","fontSize":11,"align":"left","baseline":"middle","angle":270,"dy":5,"color":"#111"},
       "encoding":{"x":{"datum":-346,"type":"quantitative","scale":{"domain":[0,1500],"range":[195,464],"nice":false,"zero":false},"axis":{"values":[0,300,600,900,1200,1500],"format":"d","offset":-61,"domain":true,"domainColor":"#8a8a8a","domainWidth":1.2,"ticks":false,"tickSize":0,"grid":true,"gridColor":"#a0a0a0","gridDash":[2,2],"labelFont":"Liberation Sans","labelFontWeight":"bold","labelFontSize":14,"labelColor":"#111","labelPadding":12,"labelFlush":false,"title":null}},
                   "y":{"datum":493,"type":"quantitative","scale":{"domain":[0,1500],"range":[234,17],"nice":false,"zero":false},"axis":{"values":[0,300,600,900,1200,1500],"format":"d","offset":-195,"domain":true,"domainColor":"#8a8a8a","domainWidth":1.2,"ticks":false,"tickSize":0,"grid":true,"gridColor":"#a0a0a0","gridDash":[2,2],"labelFont":"Liberation Sans","labelFontWeight":"bold","labelFontSize":14,"labelColor":"#111","labelPadding":10,"labelFlush":false,"title":null}}}},
      {"data":{"values":[{}]},"mark":{"type":"text","text":"(m³/hr)","font":"Liberation Sans","fontWeight":"bold","fontSize":16,"align":"left","baseline":"middle","angle":270,"dx":16,"color":"#111"},
       "encoding":{"x":{"datum":-346,"type":"quantitative","scale":{"domain":[0,1500],"range":[195,464],"nice":false,"zero":false},"axis":{"values":[0,300,600,900,1200,1500],"format":"d","offset":-61,"domain":true,"domainColor":"#8a8a8a","domainWidth":1.2,"ticks":false,"tickSize":0,"grid":true,"gridColor":"#a0a0a0","gridDash":[2,2],"labelFont":"Liberation Sans","labelFontWeight":"bold","labelFontSize":14,"labelColor":"#111","labelPadding":12,"labelFlush":false,"title":null}},
                   "y":{"datum":493,"type":"quantitative","scale":{"domain":[0,1500],"range":[234,17],"nice":false,"zero":false},"axis":{"values":[0,300,600,900,1200,1500],"format":"d","offset":-195,"domain":true,"domainColor":"#8a8a8a","domainWidth":1.2,"ticks":false,"tickSize":0,"grid":true,"gridColor":"#a0a0a0","gridDash":[2,2],"labelFont":"Liberation Sans","labelFontWeight":"bold","labelFontSize":14,"labelColor":"#111","labelPadding":10,"labelFlush":false,"title":null}}}}
    ]},
    {"width":1,"height":295,"data":{"values":[]},"mark":"point","encoding":{},"view":{"fill":"#000","stroke":null}},
    {"width":562,"height":295,"layer":[
      {"data":{"name":"linesA"},"transform":[{"filter":"datum.k === 'p40'"}],"mark":{"type":"rule","color":"#7a7a7a","strokeWidth":1},
       "encoding":{"x":{"field":"x0","type":"quantitative","scale":{"domain":[0,1500],"range":[181,455],"nice":false,"zero":false},"axis":{"values":[0,300,600,900,1200,1500],"format":"d","offset":-60,"domain":true,"domainColor":"#8a8a8a","domainWidth":1.2,"ticks":false,"tickSize":0,"grid":true,"gridColor":"#a0a0a0","gridDash":[2,2],"labelFont":"Liberation Sans","labelFontWeight":"bold","labelFontSize":14,"labelColor":"#111","labelPadding":12,"labelFlush":false,"title":null}},"x2":{"field":"x1"},
                   "y":{"field":"y0","type":"quantitative","scale":{"domain":[0,1500],"range":[235,15],"nice":false,"zero":false},"axis":{"values":[0,300,600,900,1200,1500],"format":"d","offset":-181,"domain":true,"domainColor":"#8a8a8a","domainWidth":1.2,"ticks":false,"tickSize":0,"grid":true,"gridColor":"#a0a0a0","gridDash":[2,2],"labelFont":"Liberation Sans","labelFontWeight":"bold","labelFontSize":14,"labelColor":"#111","labelPadding":8,"labelFlush":false,"title":null}},"y2":{"field":"y1"}}},
      {"data":{"name":"linesA"},"transform":[{"filter":"datum.k === 'm40'"}],"mark":{"type":"rule","color":"#666","strokeWidth":1.2},
       "encoding":{"x":{"field":"x0","type":"quantitative","scale":{"domain":[0,1500],"range":[181,455],"nice":false,"zero":false},"axis":{"values":[0,300,600,900,1200,1500],"format":"d","offset":-60,"domain":true,"domainColor":"#8a8a8a","domainWidth":1.2,"ticks":false,"tickSize":0,"grid":true,"gridColor":"#a0a0a0","gridDash":[2,2],"labelFont":"Liberation Sans","labelFontWeight":"bold","labelFontSize":14,"labelColor":"#111","labelPadding":12,"labelFlush":false,"title":null}},"x2":{"field":"x1"},
                   "y":{"field":"y0","type":"quantitative","scale":{"domain":[0,1500],"range":[235,15],"nice":false,"zero":false},"axis":{"values":[0,300,600,900,1200,1500],"format":"d","offset":-181,"domain":true,"domainColor":"#8a8a8a","domainWidth":1.2,"ticks":false,"tickSize":0,"grid":true,"gridColor":"#a0a0a0","gridDash":[2,2],"labelFont":"Liberation Sans","labelFontWeight":"bold","labelFontSize":14,"labelColor":"#111","labelPadding":8,"labelFlush":false,"title":null}},"y2":{"field":"y1"}}},
      {"data":{"name":"linesA"},"transform":[{"filter":"datum.k === 'one'"}],"mark":{"type":"rule","color":"#000","strokeWidth":2},
       "encoding":{"x":{"field":"x0","type":"quantitative","scale":{"domain":[0,1500],"range":[181,455],"nice":false,"zero":false},"axis":{"values":[0,300,600,900,1200,1500],"format":"d","offset":-60,"domain":true,"domainColor":"#8a8a8a","domainWidth":1.2,"ticks":false,"tickSize":0,"grid":true,"gridColor":"#a0a0a0","gridDash":[2,2],"labelFont":"Liberation Sans","labelFontWeight":"bold","labelFontSize":14,"labelColor":"#111","labelPadding":12,"labelFlush":false,"title":null}},"x2":{"field":"x1"},
                   "y":{"field":"y0","type":"quantitative","scale":{"domain":[0,1500],"range":[235,15],"nice":false,"zero":false},"axis":{"values":[0,300,600,900,1200,1500],"format":"d","offset":-181,"domain":true,"domainColor":"#8a8a8a","domainWidth":1.2,"ticks":false,"tickSize":0,"grid":true,"gridColor":"#a0a0a0","gridDash":[2,2],"labelFont":"Liberation Sans","labelFontWeight":"bold","labelFontSize":14,"labelColor":"#111","labelPadding":8,"labelFlush":false,"title":null}},"y2":{"field":"y1"}}},
      {"data":{"name":"ts"},"mark":{"type":"point","filled":false,"size":85,"color":"#111","strokeWidth":1.2,"opacity":1},
       "encoding":{"x":{"field":"obs","type":"quantitative","scale":{"domain":[0,1500],"range":[181,455],"nice":false,"zero":false},"axis":{"values":[0,300,600,900,1200,1500],"format":"d","offset":-60,"domain":true,"domainColor":"#8a8a8a","domainWidth":1.2,"ticks":false,"tickSize":0,"grid":true,"gridColor":"#a0a0a0","gridDash":[2,2],"labelFont":"Liberation Sans","labelFontWeight":"bold","labelFontSize":14,"labelColor":"#111","labelPadding":12,"labelFlush":false,"title":null}},
                   "y":{"field":"pa","type":"quantitative","scale":{"domain":[0,1500],"range":[235,15],"nice":false,"zero":false},"axis":{"values":[0,300,600,900,1200,1500],"format":"d","offset":-181,"domain":true,"domainColor":"#8a8a8a","domainWidth":1.2,"ticks":false,"tickSize":0,"grid":true,"gridColor":"#a0a0a0","gridDash":[2,2],"labelFont":"Liberation Sans","labelFontWeight":"bold","labelFontSize":14,"labelColor":"#111","labelPadding":8,"labelFlush":false,"title":null}}}},
      {"data":{"name":"annA"},"mark":{"type":"rect","fill":"#fff","stroke":"#666","strokeWidth":1},
       "encoding":{"x":{"field":"bx0","type":"quantitative","scale":{"domain":[0,1500],"range":[181,455],"nice":false,"zero":false},"axis":{"values":[0,300,600,900,1200,1500],"format":"d","offset":-60,"domain":true,"domainColor":"#8a8a8a","domainWidth":1.2,"ticks":false,"tickSize":0,"grid":true,"gridColor":"#a0a0a0","gridDash":[2,2],"labelFont":"Liberation Sans","labelFontWeight":"bold","labelFontSize":14,"labelColor":"#111","labelPadding":12,"labelFlush":false,"title":null}},"x2":{"field":"bx1"},
                   "y":{"field":"by0","type":"quantitative","scale":{"domain":[0,1500],"range":[235,15],"nice":false,"zero":false},"axis":{"values":[0,300,600,900,1200,1500],"format":"d","offset":-181,"domain":true,"domainColor":"#8a8a8a","domainWidth":1.2,"ticks":false,"tickSize":0,"grid":true,"gridColor":"#a0a0a0","gridDash":[2,2],"labelFont":"Liberation Sans","labelFontWeight":"bold","labelFontSize":14,"labelColor":"#111","labelPadding":8,"labelFlush":false,"title":null}},"y2":{"field":"by1"}}},
      {"data":{"name":"annA"},"mark":{"type":"text","font":"Liberation Sans","fontSize":14,"color":"#111"},
       "encoding":{"x":{"field":"tx","type":"quantitative","scale":{"domain":[0,1500],"range":[181,455],"nice":false,"zero":false},"axis":{"values":[0,300,600,900,1200,1500],"format":"d","offset":-60,"domain":true,"domainColor":"#8a8a8a","domainWidth":1.2,"ticks":false,"tickSize":0,"grid":true,"gridColor":"#a0a0a0","gridDash":[2,2],"labelFont":"Liberation Sans","labelFontWeight":"bold","labelFontSize":14,"labelColor":"#111","labelPadding":12,"labelFlush":false,"title":null}},
                   "y":{"field":"ty","type":"quantitative","scale":{"domain":[0,1500],"range":[235,15],"nice":false,"zero":false},"axis":{"values":[0,300,600,900,1200,1500],"format":"d","offset":-181,"domain":true,"domainColor":"#8a8a8a","domainWidth":1.2,"ticks":false,"tickSize":0,"grid":true,"gridColor":"#a0a0a0","gridDash":[2,2],"labelFont":"Liberation Sans","labelFontWeight":"bold","labelFontSize":14,"labelColor":"#111","labelPadding":8,"labelFlush":false,"title":null}},
                   "text":{"field":"lab","type":"nominal"}}},
      {"data":{"name":"annA"},"mark":{"type":"rule","color":"#333","strokeWidth":1},
       "encoding":{"x":{"field":"ax0","type":"quantitative","scale":{"domain":[0,1500],"range":[181,455],"nice":false,"zero":false},"axis":{"values":[0,300,600,900,1200,1500],"format":"d","offset":-60,"domain":true,"domainColor":"#8a8a8a","domainWidth":1.2,"ticks":false,"tickSize":0,"grid":true,"gridColor":"#a0a0a0","gridDash":[2,2],"labelFont":"Liberation Sans","labelFontWeight":"bold","labelFontSize":14,"labelColor":"#111","labelPadding":12,"labelFlush":false,"title":null}},"x2":{"field":"ax1"},
                   "y":{"field":"ay0","type":"quantitative","scale":{"domain":[0,1500],"range":[235,15],"nice":false,"zero":false},"axis":{"values":[0,300,600,900,1200,1500],"format":"d","offset":-181,"domain":true,"domainColor":"#8a8a8a","domainWidth":1.2,"ticks":false,"tickSize":0,"grid":true,"gridColor":"#a0a0a0","gridDash":[2,2],"labelFont":"Liberation Sans","labelFontWeight":"bold","labelFontSize":14,"labelColor":"#111","labelPadding":8,"labelFlush":false,"title":null}},"y2":{"field":"ay1"}}},
      {"data":{"name":"annA"},"transform":[{"filter":"datum.lab === '+40%'"}],"mark":{"type":"point","shape":"triangle-right","angle":16,"size":30,"filled":true,"color":"#222","opacity":1},
       "encoding":{"x":{"field":"ax1","type":"quantitative","scale":{"domain":[0,1500],"range":[181,455],"nice":false,"zero":false},"axis":{"values":[0,300,600,900,1200,1500],"format":"d","offset":-60,"domain":true,"domainColor":"#8a8a8a","domainWidth":1.2,"ticks":false,"tickSize":0,"grid":true,"gridColor":"#a0a0a0","gridDash":[2,2],"labelFont":"Liberation Sans","labelFontWeight":"bold","labelFontSize":14,"labelColor":"#111","labelPadding":12,"labelFlush":false,"title":null}},
                   "y":{"field":"ay1","type":"quantitative","scale":{"domain":[0,1500],"range":[235,15],"nice":false,"zero":false},"axis":{"values":[0,300,600,900,1200,1500],"format":"d","offset":-181,"domain":true,"domainColor":"#8a8a8a","domainWidth":1.2,"ticks":false,"tickSize":0,"grid":true,"gridColor":"#a0a0a0","gridDash":[2,2],"labelFont":"Liberation Sans","labelFontWeight":"bold","labelFontSize":14,"labelColor":"#111","labelPadding":8,"labelFlush":false,"title":null}}}},
      {"data":{"name":"annA"},"transform":[{"filter":"datum.lab === '-40%'"}],"mark":{"type":"point","shape":"triangle-right","angle":238,"size":30,"filled":true,"color":"#222","opacity":1},
       "encoding":{"x":{"field":"ax1","type":"quantitative","scale":{"domain":[0,1500],"range":[181,455],"nice":false,"zero":false},"axis":{"values":[0,300,600,900,1200,1500],"format":"d","offset":-60,"domain":true,"domainColor":"#8a8a8a","domainWidth":1.2,"ticks":false,"tickSize":0,"grid":true,"gridColor":"#a0a0a0","gridDash":[2,2],"labelFont":"Liberation Sans","labelFontWeight":"bold","labelFontSize":14,"labelColor":"#111","labelPadding":12,"labelFlush":false,"title":null}},
                   "y":{"field":"ay1","type":"quantitative","scale":{"domain":[0,1500],"range":[235,15],"nice":false,"zero":false},"axis":{"values":[0,300,600,900,1200,1500],"format":"d","offset":-181,"domain":true,"domainColor":"#8a8a8a","domainWidth":1.2,"ticks":false,"tickSize":0,"grid":true,"gridColor":"#a0a0a0","gridDash":[2,2],"labelFont":"Liberation Sans","labelFontWeight":"bold","labelFontSize":14,"labelColor":"#111","labelPadding":8,"labelFlush":false,"title":null}}}},
      {"data":{"values":[{}]},"mark":{"type":"text","text":"Q","font":"Liberation Sans","fontWeight":"bold","fontSize":16,"align":"right","baseline":"middle","color":"#111"},
       "encoding":{"x":{"datum":542,"type":"quantitative","scale":{"domain":[0,1500],"range":[181,455],"nice":false,"zero":false},"axis":{"values":[0,300,600,900,1200,1500],"format":"d","offset":-60,"domain":true,"domainColor":"#8a8a8a","domainWidth":1.2,"ticks":false,"tickSize":0,"grid":true,"gridColor":"#a0a0a0","gridDash":[2,2],"labelFont":"Liberation Sans","labelFontWeight":"bold","labelFontSize":14,"labelColor":"#111","labelPadding":12,"labelFlush":false,"title":null}},
                   "y":{"datum":-327,"type":"quantitative","scale":{"domain":[0,1500],"range":[235,15],"nice":false,"zero":false},"axis":{"values":[0,300,600,900,1200,1500],"format":"d","offset":-181,"domain":true,"domainColor":"#8a8a8a","domainWidth":1.2,"ticks":false,"tickSize":0,"grid":true,"gridColor":"#a0a0a0","gridDash":[2,2],"labelFont":"Liberation Sans","labelFontWeight":"bold","labelFontSize":14,"labelColor":"#111","labelPadding":8,"labelFlush":false,"title":null}}}},
      {"data":{"values":[{}]},"mark":{"type":"text","text":"obs","font":"Liberation Sans","fontWeight":"bold","fontSize":11,"align":"left","baseline":"middle","dy":5,"color":"#111"},
       "encoding":{"x":{"datum":542,"type":"quantitative","scale":{"domain":[0,1500],"range":[181,455],"nice":false,"zero":false},"axis":{"values":[0,300,600,900,1200,1500],"format":"d","offset":-60,"domain":true,"domainColor":"#8a8a8a","domainWidth":1.2,"ticks":false,"tickSize":0,"grid":true,"gridColor":"#a0a0a0","gridDash":[2,2],"labelFont":"Liberation Sans","labelFontWeight":"bold","labelFontSize":14,"labelColor":"#111","labelPadding":12,"labelFlush":false,"title":null}},
                   "y":{"datum":-327,"type":"quantitative","scale":{"domain":[0,1500],"range":[235,15],"nice":false,"zero":false},"axis":{"values":[0,300,600,900,1200,1500],"format":"d","offset":-181,"domain":true,"domainColor":"#8a8a8a","domainWidth":1.2,"ticks":false,"tickSize":0,"grid":true,"gridColor":"#a0a0a0","gridDash":[2,2],"labelFont":"Liberation Sans","labelFontWeight":"bold","labelFontSize":14,"labelColor":"#111","labelPadding":8,"labelFlush":false,"title":null}}}},
      {"data":{"values":[{}]},"mark":{"type":"text","text":"(m³/hr)","font":"Liberation Sans","fontWeight":"bold","fontSize":16,"align":"left","baseline":"middle","dx":20,"color":"#111"},
       "encoding":{"x":{"datum":542,"type":"quantitative","scale":{"domain":[0,1500],"range":[181,455],"nice":false,"zero":false},"axis":{"values":[0,300,600,900,1200,1500],"format":"d","offset":-60,"domain":true,"domainColor":"#8a8a8a","domainWidth":1.2,"ticks":false,"tickSize":0,"grid":true,"gridColor":"#a0a0a0","gridDash":[2,2],"labelFont":"Liberation Sans","labelFontWeight":"bold","labelFontSize":14,"labelColor":"#111","labelPadding":12,"labelFlush":false,"title":null}},
                   "y":{"datum":-327,"type":"quantitative","scale":{"domain":[0,1500],"range":[235,15],"nice":false,"zero":false},"axis":{"values":[0,300,600,900,1200,1500],"format":"d","offset":-181,"domain":true,"domainColor":"#8a8a8a","domainWidth":1.2,"ticks":false,"tickSize":0,"grid":true,"gridColor":"#a0a0a0","gridDash":[2,2],"labelFont":"Liberation Sans","labelFontWeight":"bold","labelFontSize":14,"labelColor":"#111","labelPadding":8,"labelFlush":false,"title":null}}}},
      {"data":{"values":[{}]},"mark":{"type":"text","text":"Q","font":"Liberation Sans","fontWeight":"bold","fontSize":16,"align":"right","baseline":"middle","angle":270,"color":"#111"},
       "encoding":{"x":{"datum":-339,"type":"quantitative","scale":{"domain":[0,1500],"range":[181,455],"nice":false,"zero":false},"axis":{"values":[0,300,600,900,1200,1500],"format":"d","offset":-60,"domain":true,"domainColor":"#8a8a8a","domainWidth":1.2,"ticks":false,"tickSize":0,"grid":true,"gridColor":"#a0a0a0","gridDash":[2,2],"labelFont":"Liberation Sans","labelFontWeight":"bold","labelFontSize":14,"labelColor":"#111","labelPadding":12,"labelFlush":false,"title":null}},
                   "y":{"datum":495,"type":"quantitative","scale":{"domain":[0,1500],"range":[235,15],"nice":false,"zero":false},"axis":{"values":[0,300,600,900,1200,1500],"format":"d","offset":-181,"domain":true,"domainColor":"#8a8a8a","domainWidth":1.2,"ticks":false,"tickSize":0,"grid":true,"gridColor":"#a0a0a0","gridDash":[2,2],"labelFont":"Liberation Sans","labelFontWeight":"bold","labelFontSize":14,"labelColor":"#111","labelPadding":8,"labelFlush":false,"title":null}}}},
      {"data":{"values":[{}]},"mark":{"type":"text","text":"est","font":"Liberation Sans","fontWeight":"bold","fontSize":11,"align":"left","baseline":"middle","angle":270,"dy":5,"color":"#111"},
       "encoding":{"x":{"datum":-339,"type":"quantitative","scale":{"domain":[0,1500],"range":[181,455],"nice":false,"zero":false},"axis":{"values":[0,300,600,900,1200,1500],"format":"d","offset":-60,"domain":true,"domainColor":"#8a8a8a","domainWidth":1.2,"ticks":false,"tickSize":0,"grid":true,"gridColor":"#a0a0a0","gridDash":[2,2],"labelFont":"Liberation Sans","labelFontWeight":"bold","labelFontSize":14,"labelColor":"#111","labelPadding":12,"labelFlush":false,"title":null}},
                   "y":{"datum":495,"type":"quantitative","scale":{"domain":[0,1500],"range":[235,15],"nice":false,"zero":false},"axis":{"values":[0,300,600,900,1200,1500],"format":"d","offset":-181,"domain":true,"domainColor":"#8a8a8a","domainWidth":1.2,"ticks":false,"tickSize":0,"grid":true,"gridColor":"#a0a0a0","gridDash":[2,2],"labelFont":"Liberation Sans","labelFontWeight":"bold","labelFontSize":14,"labelColor":"#111","labelPadding":8,"labelFlush":false,"title":null}}}},
      {"data":{"values":[{}]},"mark":{"type":"text","text":"(m³/hr)","font":"Liberation Sans","fontWeight":"bold","fontSize":16,"align":"left","baseline":"middle","angle":270,"dx":16,"color":"#111"},
       "encoding":{"x":{"datum":-339,"type":"quantitative","scale":{"domain":[0,1500],"range":[181,455],"nice":false,"zero":false},"axis":{"values":[0,300,600,900,1200,1500],"format":"d","offset":-60,"domain":true,"domainColor":"#8a8a8a","domainWidth":1.2,"ticks":false,"tickSize":0,"grid":true,"gridColor":"#a0a0a0","gridDash":[2,2],"labelFont":"Liberation Sans","labelFontWeight":"bold","labelFontSize":14,"labelColor":"#111","labelPadding":12,"labelFlush":false,"title":null}},
                   "y":{"datum":495,"type":"quantitative","scale":{"domain":[0,1500],"range":[235,15],"nice":false,"zero":false},"axis":{"values":[0,300,600,900,1200,1500],"format":"d","offset":-181,"domain":true,"domainColor":"#8a8a8a","domainWidth":1.2,"ticks":false,"tickSize":0,"grid":true,"gridColor":"#a0a0a0","gridDash":[2,2],"labelFont":"Liberation Sans","labelFontWeight":"bold","labelFontSize":14,"labelColor":"#111","labelPadding":8,"labelFlush":false,"title":null}}}}
    ]}
  ]}
 ]
}
